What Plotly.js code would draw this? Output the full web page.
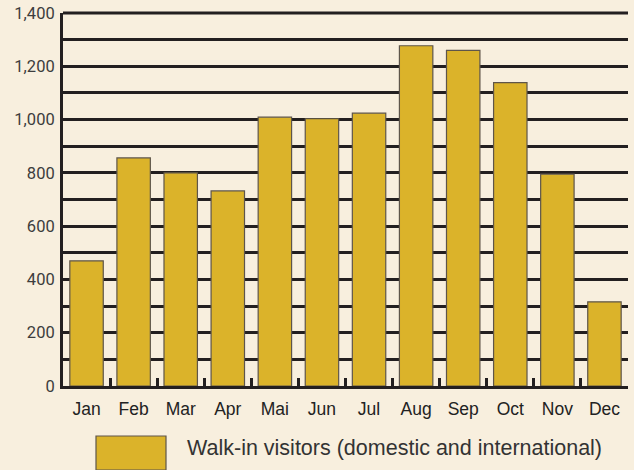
<!DOCTYPE html>
<html><head><meta charset="utf-8">
<script src="https://cdn.plot.ly/plotly-3.0.1.min.js"></script>
<style>html,body{margin:0;padding:0;background:#f8efde;}#chart{width:634px;height:470px;}</style>
</head><body><div id="chart"></div>
<script>
const months = ["Jan","Feb","Mar","Apr","Mai","Jun","Jul","Aug","Sep","Oct","Nov","Dec"];
const visitors = [470, 856, 800, 732, 1009, 1003, 1024, 1277, 1260, 1139, 795, 316];
const seriesName = "Walk-in visitors (domestic and international)";
const yTicks = [0, 200, 400, 600, 800, 1000, 1200, 1400];

const bg = "#f8efde";
const ink = "#231f20";
const barColor = "#dbb32a";

const trace = {
  type: "bar", x: months, y: visitors, name: seriesName,
  marker: {color: barColor, line: {color: "#5e554a", width: 1.2}},
  showlegend: false, hoverinfo: "x+y"
};

const layout = {
  width: 634, height: 470,
  paper_bgcolor: bg, plot_bgcolor: bg,
  margin: {l: 63, r: 6, t: 13, b: 84},
  bargap: 0.29,
  font: {family: "Liberation Sans, Arial, sans-serif", color: "#333333"},
  xaxis: {
    type: "category", showgrid: false, showline: true, linecolor: ink, linewidth: 3,
    ticks: "inside", tickson: "boundaries", ticklen: 8, tickwidth: 3, tickcolor: ink,
    tickfont: {size: 17.5, family: "Liberation Sans, Arial, sans-serif", color: "#222"},
    ticklabelstandoff: 5, zeroline: false
  },
  yaxis: {
    range: [0, 1400], tickvals: yTicks, separatethousands: true,
    showgrid: true, gridcolor: ink, gridwidth: 3,
    minor: {dtick: 100, showgrid: true, gridcolor: ink, gridwidth: 3},
    showline: true, linecolor: ink, linewidth: 3, ticks: "",
    tickfont: {size: 16.5, family: "Roboto, Liberation Sans, sans-serif", color: "#3d3d3d"},
    ticklabelstandoff: 2, zeroline: false
  },
  shapes: [
    {type: "line", xref: "paper", yref: "paper", x0: 0, x1: 1, y0: 1, y1: 1,
     line: {color: ink, width: 3}, layer: "below"},
    {type: "rect", xref: "paper", yref: "paper",
     x0: (96-63)/565, x1: (166-63)/565, y0: -84/373, y1: -(436-386)/373,
     fillcolor: barColor, line: {color: "#5e554a", width: 1.2}}
  ],
  annotations: [{
    xref: "paper", yref: "paper", x: (185-63)/565, y: -(448-386)/373,
    xanchor: "left", yanchor: "middle", showarrow: false,
    text: seriesName, font: {size: 21.5, family: "Liberation Sans, Arial, sans-serif", color: "#333"}
  }]
};

Plotly.newPlot("chart", [trace], layout, {displayModeBar: false, staticPlot: true});
</script></body></html>
